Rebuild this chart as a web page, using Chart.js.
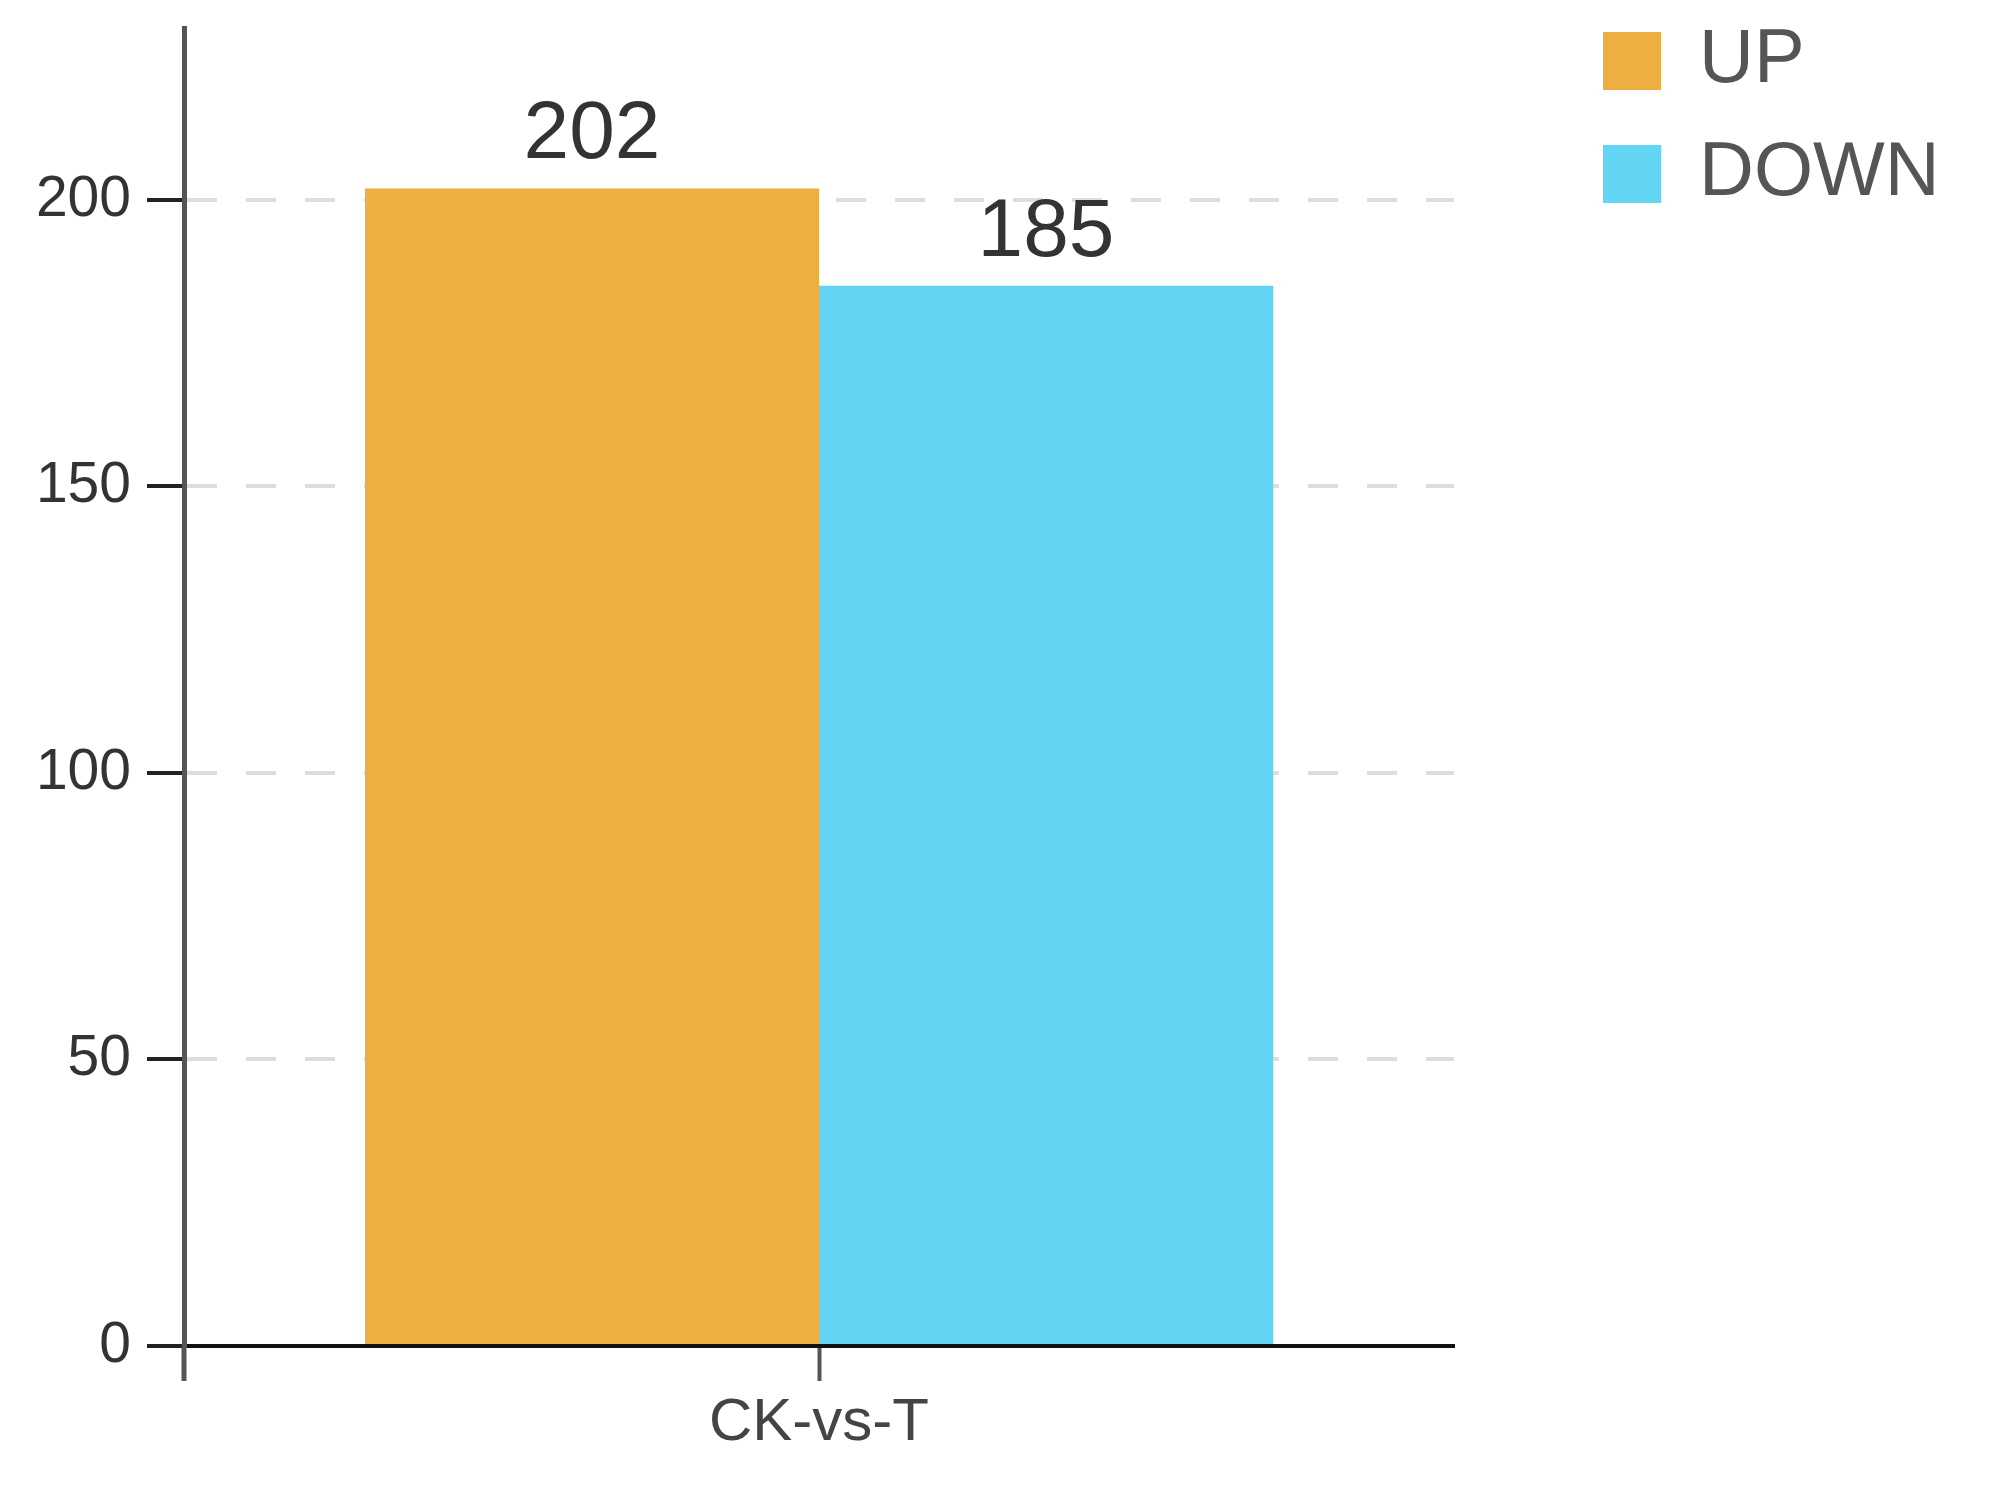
<!DOCTYPE html>
<html>
<head>
<meta charset="utf-8">
<script src="https://cdn.jsdelivr.net/npm/chart.js@4/dist/chart.umd.min.js"></script>
<style>
    html, body { margin: 0; padding: 0; background: #fff; }
    #wrap { width: 1995px; height: 1485px; position: relative; }
</style>
</head>
<body>
<div id="wrap"><canvas id="chart"></canvas></div>
<script>
// Данные графика
const categories = ['CK-vs-T'];
const seriesNames = ['UP', 'DOWN'];
const upValues = [202];
const downValues = [185];
const yTicks = [0, 50, 100, 150, 200];
const yMax = 230;

const FONT = 'Arial, "Liberation Sans", sans-serif';
const colors = ['#EDAE42', '#62D5F5'];

// Подписи значений над столбцами
const barValueLabels = {
    id: 'barValueLabels',
    afterDatasetsDraw(chart) {
        const ctx = chart.ctx;
        ctx.save();
        ctx.font = '82px ' + FONT;
        ctx.fillStyle = '#333';
        ctx.textAlign = 'center';
        ctx.textBaseline = 'alphabetic';
        chart.data.datasets.forEach((ds, i) => {
            chart.getDatasetMeta(i).data.forEach((bar, j) => {
                ctx.fillText(ds.data[j], bar.x, bar.y - 30);
            });
        });
        ctx.restore();
    }
};

// Ось Y продолжается ниже оси X на длину засечки
const axisExtension = {
    id: 'axisExtension',
    afterDraw(chart) {
        const { ctx, chartArea } = chart;
        const len = chart.options.scales.x.grid.tickLength;
        ctx.save();
        ctx.strokeStyle = '#555';
        ctx.lineWidth = 5;
        ctx.beginPath();
        ctx.moveTo(chartArea.left, chartArea.bottom);
        ctx.lineTo(chartArea.left, chartArea.bottom + len);
        ctx.stroke();
        ctx.restore();
    }
};

// Легенда справа с отступом от области графика
const legendPlace = {
    id: 'legendPlace',
    beforeLayout(chart) {
        const lg = chart.legend;
        if (!lg || lg._placed) return;
        const fit = lg.fit;
        lg.fit = function () {
            fit.call(this);
            this.width = 541;
        };
        lg._placed = true;
    },
    afterLayout(chart) {
        const lg = chart.legend;
        if (!lg) return;
        lg.left += 112;
        lg.right += 112;
        lg.top -= 42;
        lg.bottom -= 42;
    }
};

const chart = new Chart(document.getElementById('chart'), {
    type: 'bar',
    data: {
        labels: categories,
        datasets: [
            { label: seriesNames[0], data: upValues, backgroundColor: colors[0] },
            { label: seriesNames[1], data: downValues, backgroundColor: colors[1] }
        ]
    },
    options: {
        responsive: true,
        maintainAspectRatio: false,
        animation: false,
        layout: { padding: { top: 28, left: 0, right: 0, bottom: 20 } },
        datasets: {
            bar: { categoryPercentage: 0.715, barPercentage: 1.0 }
        },
        plugins: {
            tooltip: { enabled: false },
            legend: {
                position: 'right',
                align: 'start',
                labels: {
                    boxWidth: 58,
                    boxHeight: 58,
                    padding: 37,
                    color: '#555',
                    font: { family: FONT, size: 76 }
                }
            }
        },
        scales: {
            x: {
                offset: true,
                grid: {
                    offset: false,
                    drawOnChartArea: false,
                    tickLength: 35,
                    tickColor: '#555',
                    tickWidth: 4
                },
                border: { color: '#111', width: 4 },
                ticks: {
                    color: '#444',
                    padding: 6,
                    font: { family: FONT, size: 60 }
                }
            },
            y: {
                min: 0,
                max: yMax,
                afterBuildTicks(scale) {
                    scale.ticks = yTicks.map(v => ({ value: v }));
                },
                afterFit(scale) {
                    scale.width = 184;
                    scale.paddingTop = 0;
                    scale.paddingBottom = 0;
                },
                grid: {
                    color: ctx => ctx.tick && ctx.tick.value === 0 ? 'rgba(0,0,0,0)' : '#ddd',
                    lineWidth: 4,
                    tickLength: 37,
                    tickColor: '#222',
                    tickWidth: 4
                },
                border: { color: '#555', width: 5, dash: [30, 29] },
                ticks: {
                    color: '#333',
                    padding: 16,
                    font: { family: FONT, size: 57 }
                }
            }
        }
    },
    plugins: [barValueLabels, axisExtension, legendPlace]
});
</script>
</body>
</html>
